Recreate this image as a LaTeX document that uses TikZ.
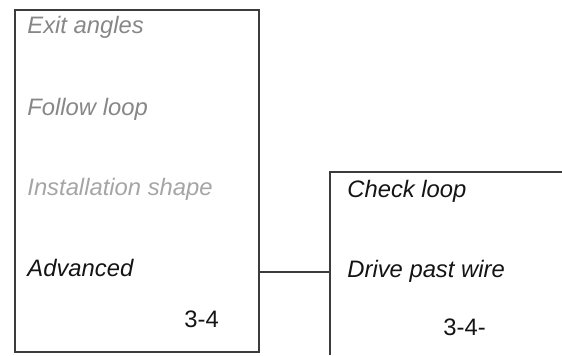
\documentclass[tikz,border=0pt]{standalone}
\usepackage{fontspec}
\setmainfont{Liberation Sans}
\usepackage{tikz}
\usetikzlibrary{positioning, calc}
\definecolor{clrLn}  {RGB}{ 60, 60, 60}
\definecolor{clrOff} {RGB}{135,135,135}
\definecolor{clrDim} {RGB}{165,165,165}
\definecolor{clrOn}  {RGB}{ 20, 20, 20}
\tikzset{
  menubox/.style={rectangle, draw=clrLn, line width=0.8pt, inner sep=0pt},
  itemOff/.style={anchor=base west, inner sep=0pt, font=\fontsize{11.9}{13}\selectfont\itshape, text=clrOff},
  itemDim/.style={anchor=base west, inner sep=0pt, font=\fontsize{11.9}{13}\selectfont\itshape, text=clrDim},
  itemOn/.style={anchor=base west, inner sep=0pt, font=\fontsize{11.9}{13}\selectfont\itshape, text=clrOn},
  pagelbl/.style={anchor=base west, inner sep=0pt, font=\fontsize{11.9}{13}\selectfont, text=clrOn},
  link/.style={draw=clrLn, line width=0.8pt},
}
\begin{document}
\begin{tikzpicture}[x=0.5pt, y=-0.5pt]
\useasboundingbox (0,0) rectangle (562,355);
% main menu
\node[menubox, minimum width=122pt, minimum height=171pt] (mainbox) at (137,181) {};
\node[itemOff] (exit)   at (27,33)  {Exit angles};
\node[itemOff] (follow) at (27,115) {Follow loop};
\node[itemDim] (inst)   at (27,195) {Installation shape};
\node[itemOn]  (adv)    at (27,276) {Advanced};
\node[pagelbl] (pg1)    at (184,327) {3-4};
% sub menu, cut at the page edge
\coordinate (subtl) at (330,172);
\draw[link] (subtl -| 562,0) -- (subtl) -- (subtl |- 0,355);
\node[itemOn]  (check)  at (347,197) {Check loop};
\node[itemOn]  (drive)  at (347,277) {Drive past wire};
\node[pagelbl] (pg2)    at (443,335) {3-4-};
\coordinate (join) at (330,272);
\draw[link] (join -| mainbox.east) -- (join);
\end{tikzpicture}
\end{document}
